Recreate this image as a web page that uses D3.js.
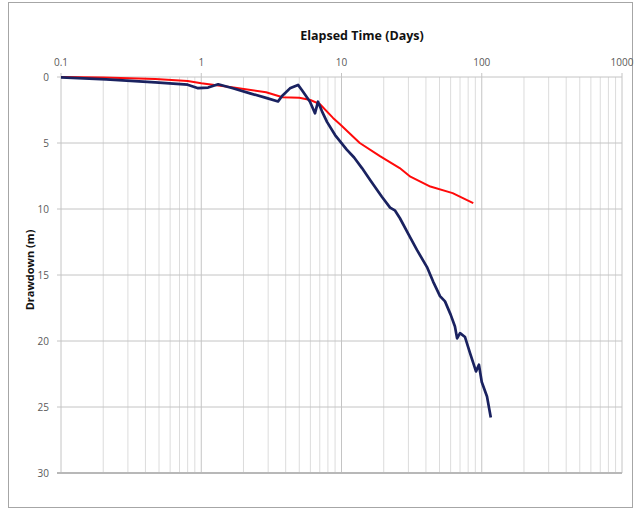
<!DOCTYPE html>
<html lang="en">
<head>
    <meta charset="UTF-8">
    <title>Drawdown vs elapsed time</title>
    <script src="https://d3js.org/d3.v7.min.js"></script>
<style>
    body { margin: 0; background: #fff; }
    text { font-family: "Open Sans", "Liberation Sans", sans-serif; }
</style>
</head>
<body>
    <svg id="chart" width="635" height="511"></svg>
</body>
<script>

// observed drawdown (blue)
const obsTime = [0.1, 0.21, 0.47, 0.8, 0.95, 1.12, 1.32, 1.68, 2.23, 2.94, 3.53, 3.77, 4.29, 4.9, 5.23, 5.96, 6.47, 6.8, 7.26, 7.88, 9.0, 10.9, 12.3, 14.0, 16.0, 19.4, 22.2, 24.0, 26.1, 30.0, 34.5, 40.7, 45.0, 50.4, 54.7, 60.0, 64.4, 66.7, 70, 76, 82.4, 91, 95.5, 100, 109, 116];
const obsDraw = [0.03, 0.18, 0.4, 0.58, 0.85, 0.8, 0.55, 0.85, 1.24, 1.6, 1.85, 1.44, 0.86, 0.6, 1.0, 1.87, 2.75, 1.87, 2.6, 3.4, 4.4, 5.5, 6.1, 6.9, 7.8, 9.07, 9.9, 10.1, 10.7, 11.9, 13.1, 14.4, 15.5, 16.6, 17.0, 18.0, 18.9, 19.8, 19.4, 19.7, 20.9, 22.3, 21.8, 23.1, 24.2, 25.8];

// model drawdown (red)
const modTime = [0.1, 0.2, 0.47, 0.8, 1.0, 1.7, 2.9, 3.8, 5, 6, 7, 8.7, 9.8, 11.5, 13.5, 18.8, 26, 31, 43, 62, 87];
const modDraw = [0, 0.03, 0.15, 0.3, 0.48, 0.8, 1.16, 1.54, 1.57, 1.74, 2.05, 3.1, 3.6, 4.3, 5.0, 6.0, 6.9, 7.55, 8.3, 8.8, 9.55];

const xTicks = [0.1, 1, 10, 100, 1000];
const yTicks = [0, 5, 10, 15, 20, 25, 30];

const svg = d3.select('svg#chart');

// outer frame
svg.append('rect')
    .attr('x', 8.5).attr('y', 2.5)
    .attr('width', 624).attr('height', 505)
    .style('fill', 'none')
    .style('stroke', '#a6a6a6');

const x = d3.scaleLog().domain([0.1, 1000]).range([61, 622]);
const y = d3.scaleLinear().domain([0, 30]).range([77, 473]);

// minor vertical gridlines (2..9 of each decade)
const minor = [];
[0.1, 1, 10, 100].forEach(dec => {
    for (let k = 2; k <= 9; k++) minor.push(dec * k);
});
svg.append('g').selectAll('line')
    .data(minor)
    .enter()
    .append('line')
    .attr('x1', d => x(d)).attr('x2', d => x(d))
    .attr('y1', y(0)).attr('y2', y(30))
    .style('stroke', '#dcdcdc')
    .style('stroke-width', 1);

// major vertical gridlines
svg.append('g').selectAll('line')
    .data(xTicks)
    .enter()
    .append('line')
    .attr('x1', d => x(d)).attr('x2', d => x(d))
    .attr('y1', y(0) - 4).attr('y2', y(30))
    .style('stroke', '#c4c4c4')
    .style('stroke-width', 1);

// horizontal gridlines
svg.append('g').selectAll('line')
    .data(yTicks)
    .enter()
    .append('line')
    .attr('x1', x(0.1) - 4).attr('x2', x(1000))
    .attr('y1', d => y(d)).attr('y2', d => y(d))
    .style('stroke', d => d === 30 ? '#b8b8b8' : '#c4c4c4')
    .style('stroke-width', d => d === 30 ? 2 : 1);

// tick labels
svg.append('g').selectAll('text')
    .data(xTicks)
    .enter()
    .append('text')
    .attr('x', d => x(d))
    .attr('y', 66)
    .attr('text-anchor', 'middle')
    .style('font-size', '10px')
    .style('fill', '#595959')
    .text(d => d);

svg.append('g').selectAll('text')
    .data(yTicks)
    .enter()
    .append('text')
    .attr('x', 49)
    .attr('y', d => y(d) + 3.5)
    .attr('text-anchor', 'end')
    .style('font-size', '10px')
    .style('fill', '#595959')
    .text(d => d);

// axis titles
svg.append('text')
    .attr('x', 362).attr('y', 40)
    .attr('text-anchor', 'middle')
    .style('font-size', '12.5px')
    .style('font-weight', 'bold')
    .style('fill', '#111')
    .text('Elapsed Time (Days)');

svg.append('text')
    .attr('transform', 'translate(34,270) rotate(-90)')
    .attr('text-anchor', 'middle')
    .style('font-size', '11px')
    .style('font-weight', 'bold')
    .style('fill', '#111')
    .text('Drawdown (m)');

// series
const line = d3.line()
    .x(d => x(d[0]))
    .y(d => y(d[1]));

svg.append('path')
    .datum(d3.zip(modTime, modDraw))
    .attr('d', line)
    .style('fill', 'none')
    .style('stroke', '#ff0a0a')
    .style('stroke-width', 2)
    .style('stroke-linejoin', 'round');

svg.append('path')
    .datum(d3.zip(obsTime, obsDraw))
    .attr('d', line)
    .style('fill', 'none')
    .style('stroke', '#1a2260')
    .style('stroke-width', 2.7)
    .style('stroke-linejoin', 'round');

</script>
</html>
